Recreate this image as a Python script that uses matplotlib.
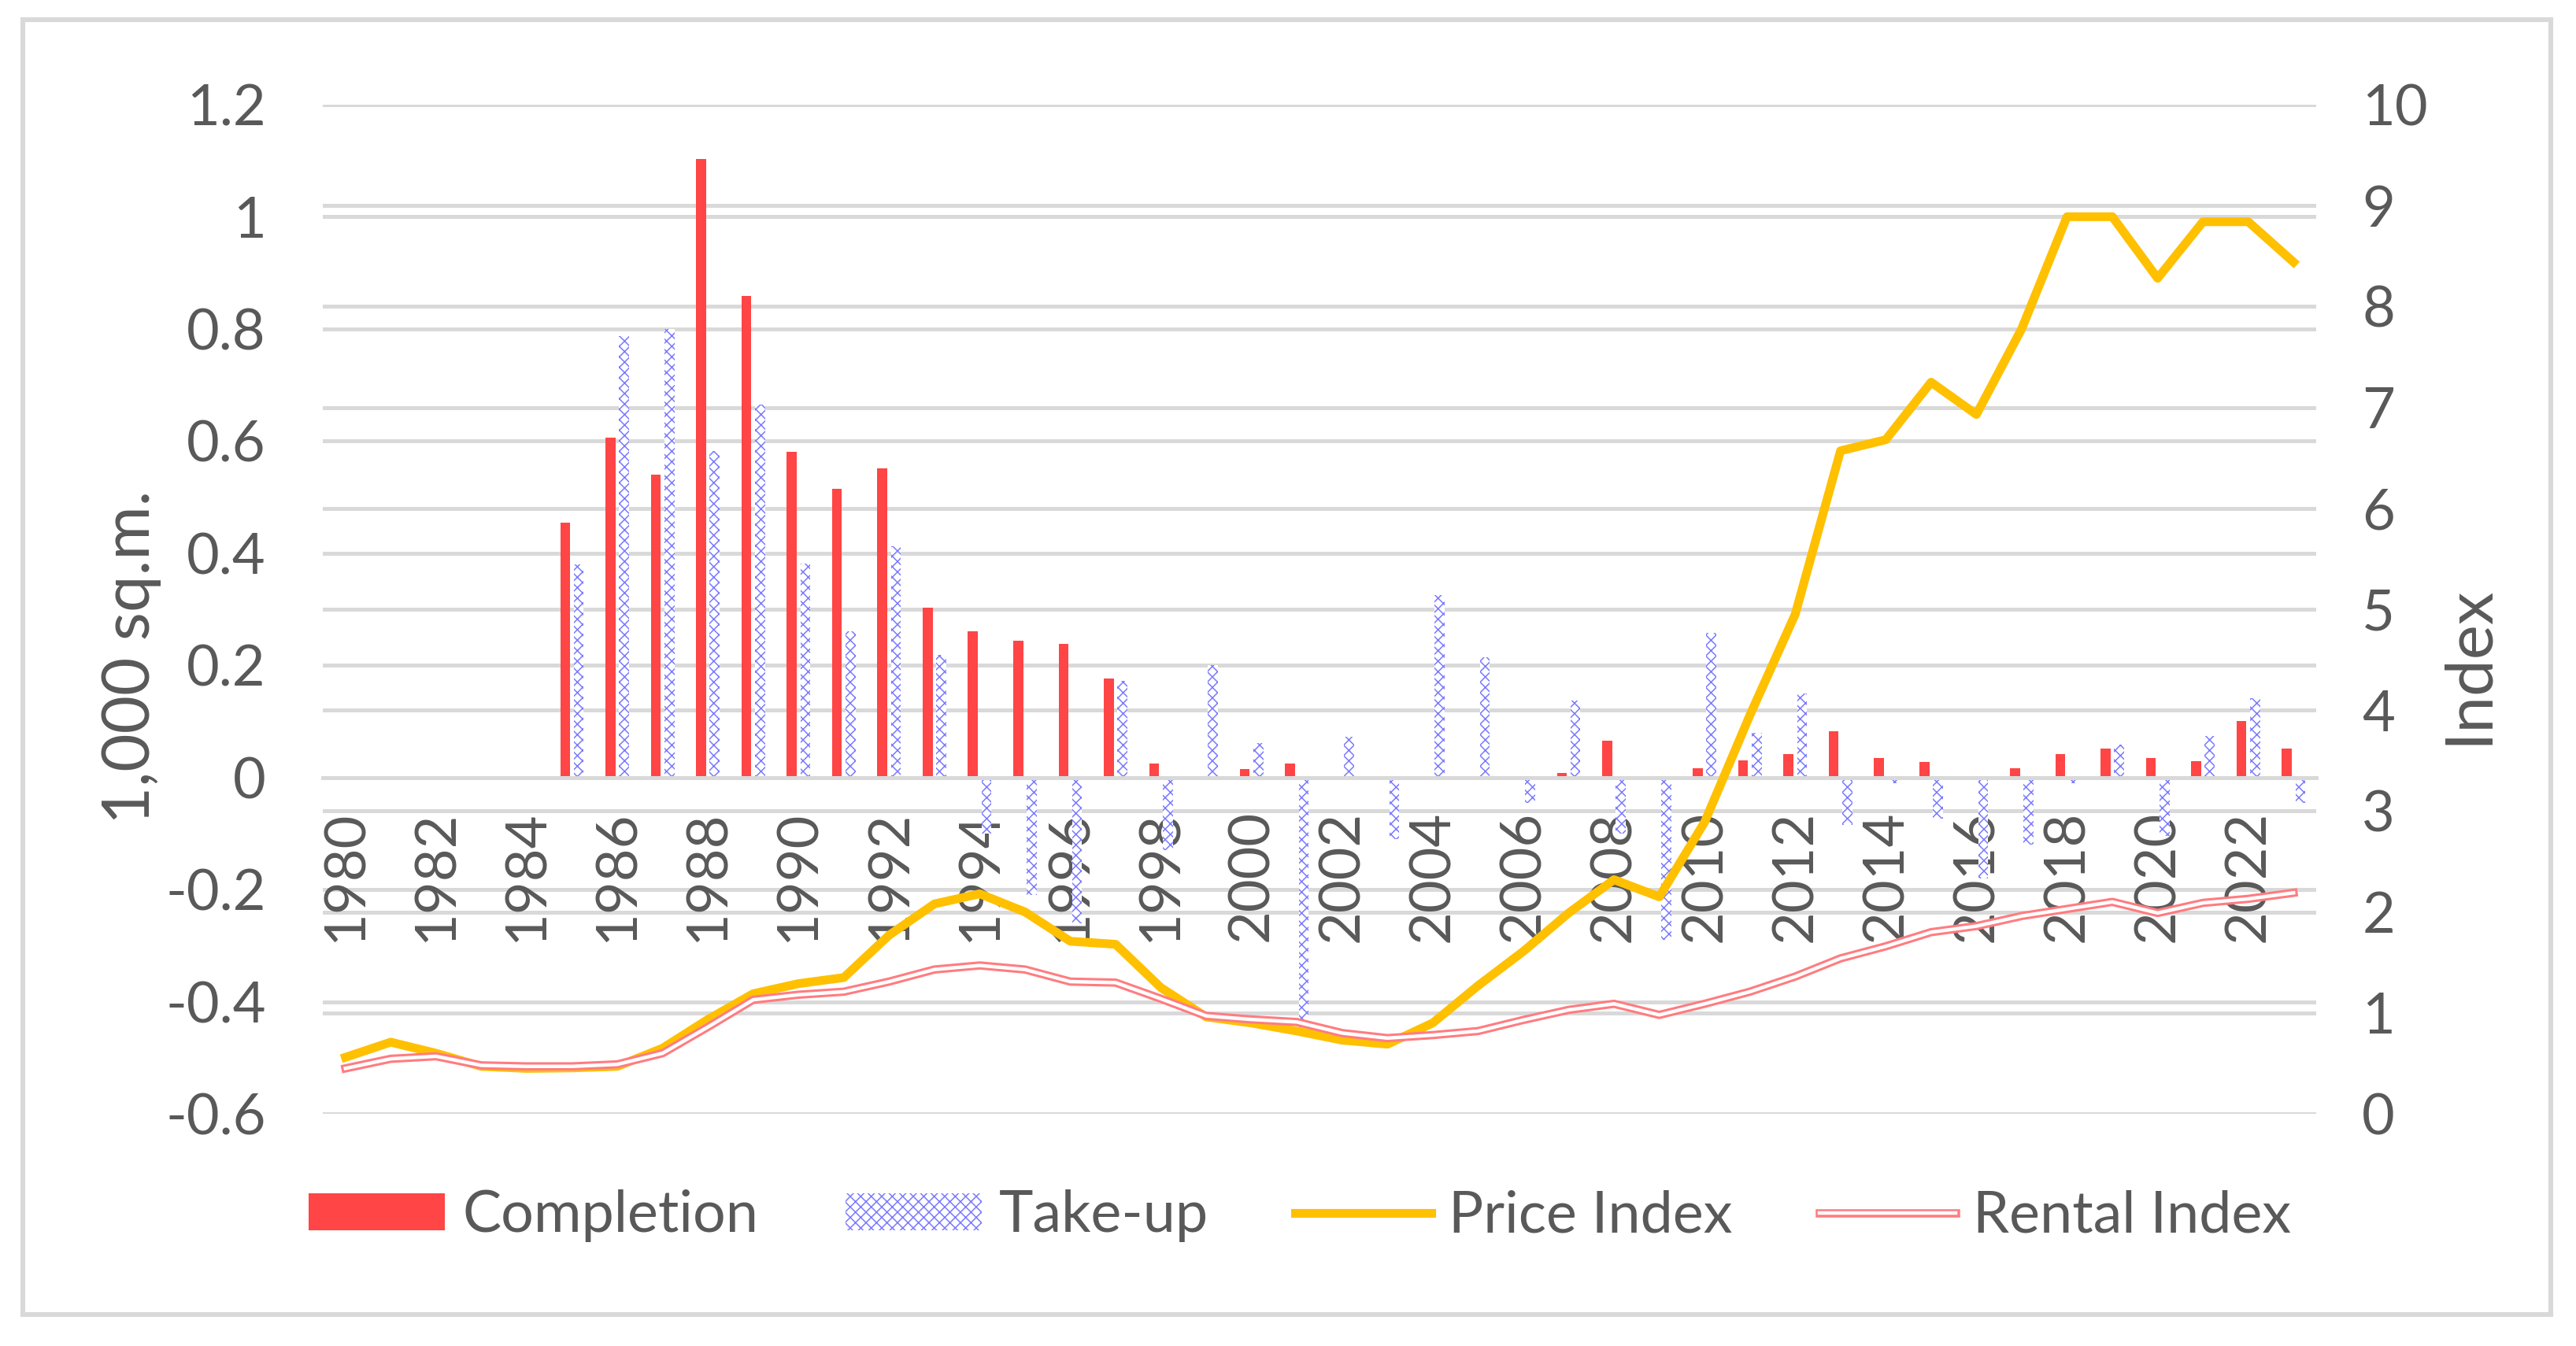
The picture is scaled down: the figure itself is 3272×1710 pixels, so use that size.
import matplotlib
matplotlib.use("Agg")
import matplotlib.pyplot as plt
from matplotlib.patches import Rectangle, Patch
from matplotlib.lines import Line2D
from matplotlib.legend_handler import HandlerTuple
import numpy as np

# -------------------------------
# data
# -------------------------------
years = list(range(1980, 2024))

completion = [0, 0, 0, 0, 0,
              0.455, 0.606, 0.540, 1.103, 0.859,
              0.581, 0.515, 0.552, 0.303, 0.261, 0.244, 0.238, 0.177, 0.025, 0,
              0.015, 0.025, 0, 0, 0, 0, 0, 0.008, 0.065, 0,
              0.016, 0.030, 0.041, 0.083, 0.035, 0.028, 0, 0.016, 0.041, 0.052,
              0.034, 0.029, 0.100, 0.052]

takeup = [0, 0, 0, 0, 0,
          0.380, 0.787, 0.800, 0.582, 0.665,
          0.382, 0.261, 0.412, 0.218, -0.100, -0.210, -0.260, 0.172, -0.130, 0.200,
          0.062, -0.445, 0.073, -0.110, 0.325, 0.215, -0.045, 0.137, -0.100, -0.290,
          0.258, 0.080, 0.150, -0.085, -0.010, -0.073, -0.180, -0.120, -0.010, 0.058,
          -0.105, 0.074, 0.141, -0.046]

price_index = [0.56, 0.71, 0.60, 0.47, 0.45, 0.455, 0.47, 0.65, 0.935, 1.19,
               1.29, 1.35, 1.77, 2.08, 2.18, 2.00, 1.71, 1.68, 1.25, 0.96,
               0.90, 0.82, 0.73, 0.69, 0.90, 1.27, 1.61, 1.99, 2.32, 2.15,
               2.89, 3.95, 4.95, 6.57, 6.68, 7.25, 6.93, 7.78, 8.89, 8.89,
               8.28, 8.84, 8.84, 8.44]

rental_index = [0.45, 0.545, 0.57, 0.48, 0.47, 0.47, 0.49, 0.60, 0.86, 1.13,
                1.18, 1.21, 1.31, 1.43, 1.47, 1.43, 1.31, 1.30, 1.14, 0.97,
                0.935, 0.91, 0.80, 0.75, 0.78, 0.82, 0.93, 1.03, 1.09, 0.98,
                1.09, 1.21, 1.36, 1.54, 1.66, 1.80, 1.86, 1.96, 2.03, 2.10,
                1.99, 2.09, 2.13, 2.19]

left_ticks = [-0.6, -0.4, -0.2, 0, 0.2, 0.4, 0.6, 0.8, 1.0, 1.2]
left_labels = ["-0.6", "-0.4", "-0.2", "0", "0.2", "0.4", "0.6", "0.8", "1", "1.2"]
right_ticks = [0, 1, 2, 3, 4, 5, 6, 7, 8, 9, 10]

# -------------------------------
# style
# -------------------------------
plt.rcParams['font.family'] = ['Lato', 'DejaVu Sans']
plt.rcParams['hatch.linewidth'] = 0.55
TXT = '#595959'
GRID = '#D9D9D9'
FS = 26
RED = '#FF4545'
BLUE = '#7A7AFF'

W, H = 3273, 1710
fig = plt.figure(figsize=(W / 200, H / 200), dpi=200)
fig.patch.set_facecolor('white')

# outer chart border
fig.patches.append(Rectangle((29 / W, 1 - 1670 / H), (3240 - 29) / W, (1670 - 25) / H,
                             transform=fig.transFigure, fill=False,
                             edgecolor=GRID, lw=2.2))

ax = fig.add_axes([410 / W, 1 - 1415 / H, (2942 - 410) / W, (1415 - 133) / H])
ax2 = ax.twinx()

x = np.arange(len(years))
ax.set_xlim(-0.5, len(years) - 0.5)
ax.set_ylim(-0.6, 1.2)
ax2.set_ylim(0, 10)

# gridlines of both axes, drawn behind the bars
for v in left_ticks:
    ax.axhline(v, color=GRID, lw=1.8, zorder=0)
for v in right_ticks:
    ax.axhline(-0.6 + v * 0.18, color=GRID, lw=1.8, zorder=0)

# bars
bw = 0.22
ax.bar(x - 0.15, completion, width=bw, color=RED, zorder=2)
ax.bar(x + 0.15, takeup, width=bw, facecolor='white', edgecolor=BLUE,
       hatch='xxxxx', linewidth=0, zorder=2)

# lines on the secondary axis
ax2.plot(x, price_index, color='#FFC000', lw=4.0, zorder=3)
ax2.plot(x, rental_index, color='#FF7C80', lw=3.8, zorder=4)
ax2.plot(x, rental_index, color='white', lw=1.6, zorder=5)

# axes cosmetics
for a in (ax, ax2):
    for s in a.spines.values():
        s.set_visible(False)
ax.spines['bottom'].set_visible(True)
ax.spines['bottom'].set_position(('data', 0))
ax.spines['bottom'].set_color(GRID)
ax.spines['bottom'].set_linewidth(1.8)

ax.set_xticks(x[::2])
ax.set_xticklabels([str(y) for y in years[::2]])
ax.tick_params(axis='x', length=0, pad=15, labelsize=FS, labelcolor=TXT,
               labelrotation=90)

ax.set_yticks(left_ticks)
ax.set_yticklabels(left_labels)
ax.tick_params(axis='y', length=0, pad=26, labelsize=FS, labelcolor=TXT)

ax2.set_yticks(right_ticks)
ax2.set_yticklabels([str(v) for v in right_ticks])
ax2.tick_params(axis='y', length=0, pad=21, labelsize=FS, labelcolor=TXT)

fig.text(0.051, 0.512, "1,000 sq.m.", rotation=90, ha='center', va='center',
         fontsize=30, color=TXT)
fig.text(0.958, 0.506, "Index", rotation=90, ha='center', va='center',
         fontsize=30, color=TXT)

# legend
h_comp = Patch(facecolor=RED, edgecolor='none')
h_take = Patch(facecolor='white', edgecolor=BLUE, hatch='xxxxx', linewidth=0)
h_price = Line2D([], [], color='#FFC000', lw=4.0)
h_rent = (Line2D([], [], color='#FF7C80', lw=3.8), Line2D([], [], color='white', lw=1.6))
fig.legend([h_comp, h_take, h_price, h_rent],
           ["Completion", "Take-up", "Price Index", "Rental Index"],
           loc='center', bbox_to_anchor=(0.5045, 0.0965), ncol=4, frameon=False,
           fontsize=26.5, labelcolor=TXT, handlelength=2.35, handleheight=0.6,
           handletextpad=0.3, columnspacing=1.5,
           handler_map={tuple: HandlerTuple(ndivide=1)})

fig.savefig("out.png", dpi=200)
